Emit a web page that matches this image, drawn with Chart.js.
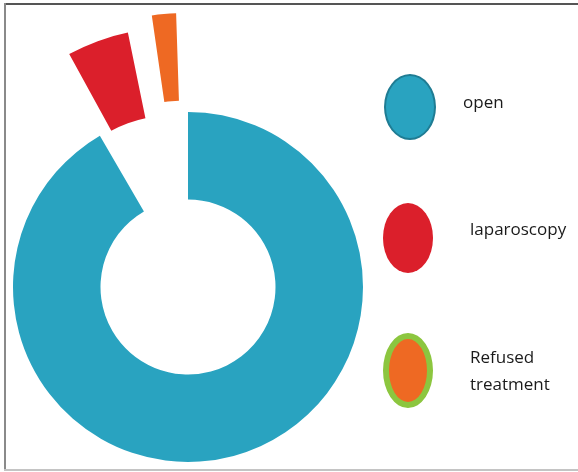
<!DOCTYPE html>
<html>
<head>
<meta charset="utf-8">
<script src="https://cdn.jsdelivr.net/npm/chart.js@4/dist/chart.umd.min.js"></script>
<style>
    html, body { margin: 0; padding: 0; background: #fff; }
    .stage { position: relative; width: 578px; height: 472px; overflow: hidden; }
    #treatmentChart { position: absolute; left: 0; top: 0; }
    .frame-top { position: absolute; left: 4px; top: 3px; width: 574px; height: 2px; background: #555; }
    .frame-left { position: absolute; left: 4px; top: 3px; width: 2px; height: 467px; background: #8a8a8a; }
    .frame-bottom { position: absolute; left: 4px; top: 469px; width: 574px; height: 2px; background: #c4c4c4; }
    .key { position: absolute; border-radius: 50%; box-sizing: border-box; }
    .key-label { position: absolute; font-family: 'Open Sans', sans-serif; font-size: 17px; color: #1a1a1a; line-height: 27px; white-space: nowrap; }
</style>
</head>
<body>
<div class="stage">
    <canvas id="treatmentChart" width="578" height="472"></canvas>
    <div class="frame-top"></div>
    <div class="frame-left"></div>
    <div class="frame-bottom"></div>
    <div id="legend"></div>
</div>
<script>
// share of patients per treatment (%)
const categories = ['open', 'laparoscopy', 'Refused treatment'];
const shares = [91.6, 5.6, 2.8];
const sliceColors = ['#29a3c0', '#db1f2b', '#ee6923'];
const sliceOffsets = [0, 210, 217];

// legend swatches: fill, outline, outline width
const keyStyles = [
    { fill: '#29a3c0', line: '#1f7c93', width: 2 },
    { fill: '#db1f2b', line: '#db1f2b', width: 0 },
    { fill: '#ee6923', line: '#8cc63f', width: 6 }
];

const Legend = {
    boxes: [
        { x: 384, y: 74, w: 52, h: 66 },
        { x: 383, y: 203, w: 50, h: 70 },
        { x: 383, y: 333, w: 50, h: 75 }
    ],
    labels: [
        { x: 463, y: 88 },
        { x: 470, y: 215 },
        { x: 470, y: 343 }
    ],

    render() {
        const container = document.getElementById('legend');
        container.innerHTML = categories.map((name, i) => {
            const b = this.boxes[i];
            const s = keyStyles[i];
            const l = this.labels[i];
            const text = name.replace(' ', '<br>');
            return `
                <div class="key" style="left:${b.x}px;top:${b.y}px;width:${b.w}px;height:${b.h}px;background:${s.fill};border:${s.width}px solid ${s.line}"></div>
                <div class="key-label" style="left:${l.x}px;top:${l.y}px">${text}</div>
            `;
        }).join('');
    }
};

const ctx = document.getElementById('treatmentChart');
new Chart(ctx, {
    type: 'doughnut',
    data: {
        labels: categories,
        datasets: [{
            data: shares,
            backgroundColor: sliceColors,
            offset: sliceOffsets,
            borderWidth: 0,
            clip: false
        }]
    },
    options: {
        responsive: false,
        animation: false,
        radius: 175,
        cutout: '50%',
        rotation: 0,
        layout: {
            padding: { left: 0, right: 202, top: 102, bottom: 0 }
        },
        plugins: {
            legend: { display: false },
            tooltip: { enabled: false }
        }
    }
});

Legend.render();
</script>
</body>
</html>
